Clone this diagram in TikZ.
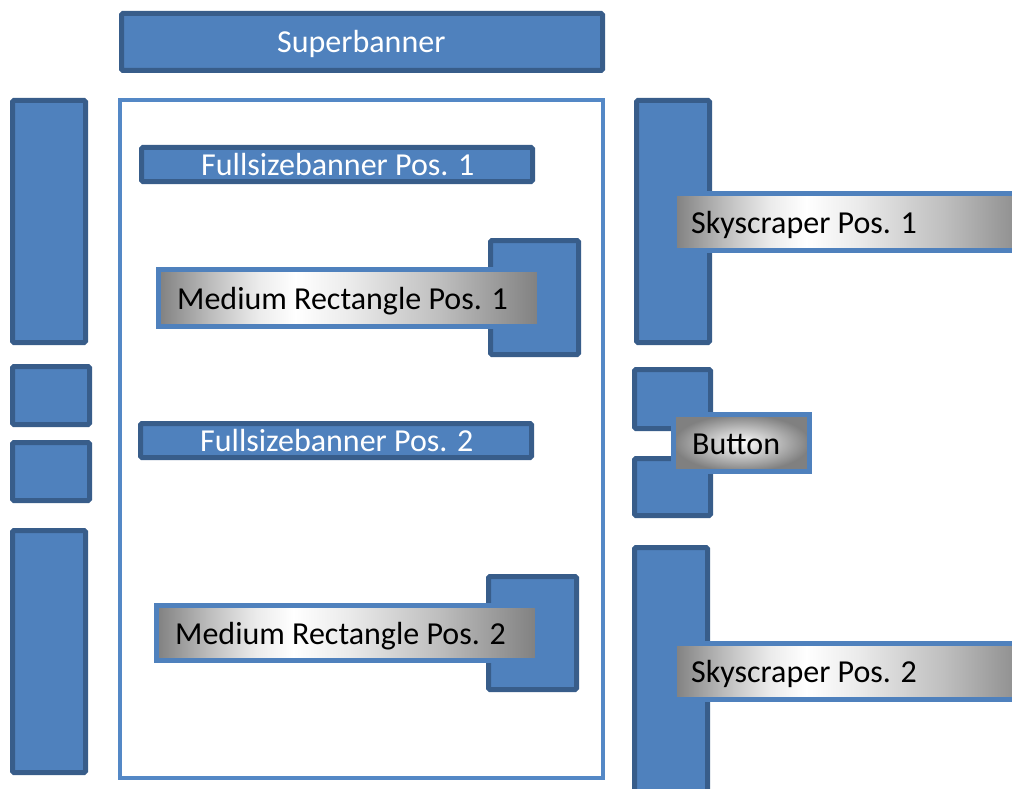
\documentclass[tikz,border=0pt]{standalone}
\usepackage{fontspec}
\setmainfont{Carlito}
\definecolor{bfill}{RGB}{79,129,189}
\definecolor{bdark}{RGB}{56,93,138}
\definecolor{blight}{RGB}{84,136,198}
\definecolor{lgray}{RGB}{128,128,128}
\definecolor{mgray}{RGB}{190,190,190}
\definecolor{pgray}{RGB}{235,235,235}
\pgfdeclarehorizontalshading{lblshade}{100bp}{color(0bp)=(lgray); color(25bp)=(lgray); color(32bp)=(mgray); color(38bp)=(pgray); color(43bp)=(white); color(50bp)=(pgray); color(62bp)=(mgray); color(75bp)=(lgray); color(100bp)=(lgray)}
\tikzset{
  darkbox/.style={draw=bdark, fill=bfill, line width=5pt, rounded corners=1.5pt},
  frame/.style={draw=blight, fill=white, line width=4pt},
  lblbox/.style={draw=bfill, line width=5pt, shading=lblshade},
  btnbox/.style={draw=bfill, line width=5pt, inner color=white, outer color=lgray},
  wtext/.style={text=white, font=\fontsize{32}{38}\selectfont, inner sep=0pt, anchor=base west},
  ktext/.style={text=black, font=\fontsize{32}{38}\selectfont, inner sep=0pt, anchor=base west},
}
\begin{document}
\begin{tikzpicture}[x=1pt,y=-1pt]
\useasboundingbox (0,0) rectangle (1012,789);
\clip (0,0) rectangle (1012,789);
% superbanner
\draw[darkbox] (121.5,13.5) rectangle (602.5,70.5);
\node[wtext] (sbt) at (277,53) {Superbanner};
% content frame
\draw[frame] (120,100) rectangle (603,778);
% left column
\draw[darkbox] (12.5,100.5) rectangle (85.5,342.5);
\draw[darkbox] (12.5,366.5) rectangle (89.5,424.5);
\draw[darkbox] (12.5,442.5) rectangle (89.5,500.5);
\draw[darkbox] (12.5,530.5) rectangle (85.5,772.5);
% fullsize banners
\draw[darkbox] (141.5,147.5) rectangle (532.5,181.5);
\node[wtext] (fs1) at (201,175.5) {Fullsizebanner Pos. 1};
\draw[darkbox] (140.5,423.5) rectangle (531.5,457.5);
\node[wtext] (fs2) at (200,451.5) {Fullsizebanner Pos. 2};
% medium rectangle 1
\draw[darkbox] (490.5,240.5) rectangle (578.5,354.5);
\draw[lblbox] (158.5,269.5) rectangle (539.5,326.5);
\node[ktext] (mr1) at (177,309) {Medium Rectangle Pos. 1};
% medium rectangle 2
\draw[darkbox] (488.5,576.5) rectangle (576.5,689.5);
\draw[lblbox] (156.5,605.5) rectangle (537.5,660.5);
\node[ktext] (mr2) at (175,644) {Medium Rectangle Pos. 2};
% right column
\draw[darkbox] (636.5,100.5) rectangle (709.5,342.5);
\draw[lblbox] (674.5,193.5) rectangle (1040,250.5);
\node[ktext] (sk1) at (691,233) {Skyscraper Pos. 1};
\draw[darkbox] (634.5,369.5) rectangle (710.5,428.5);
\draw[darkbox] (634.5,458.5) rectangle (710.5,515.5);
\draw[btnbox] (673.5,414.5) rectangle (809.5,471.5);
\node[ktext] (btn) at (692,454) {Button};
\draw[darkbox] (634.5,547.5) rectangle (707.5,800);
\draw[lblbox] (674.5,643.5) rectangle (1040,699.5);
\node[ktext] (sk2) at (691,682.5) {Skyscraper Pos. 2};
\end{tikzpicture}
\end{document}
